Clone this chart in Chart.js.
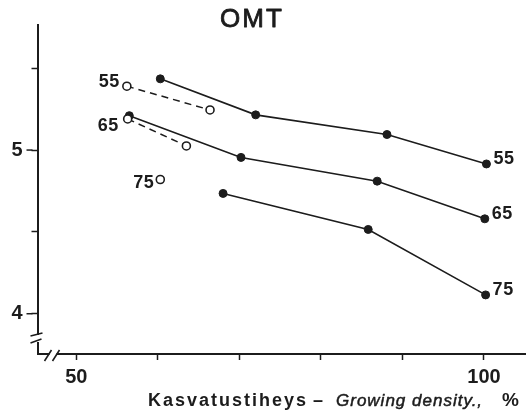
<!DOCTYPE html>
<html lang="en">
<head>
<meta charset="UTF-8" />
<title>OMT</title>
<script src="https://cdn.jsdelivr.net/npm/chart.js"></script>
<style>
  html, body { margin: 0; padding: 0; background: #fff; }
</style>
</head>
<body>
<canvas id="chart" width="532" height="420"></canvas>
<script>
// axis ticks
const xTickValues = [50, 60, 70, 80, 90, 100];
const yTickValues = [4, 4.5, 5, 5.5];

// series 55
const x55 = [60.3, 72, 88.1, 100.3];
const y55 = [5.435, 5.215, 5.095, 4.915];
const x55open = [56.2, 66.4];
const y55open = [5.39, 5.245];

// series 65
const x65 = [56.5, 70.2, 86.9, 100.1];
const y65 = [5.21, 4.955, 4.81, 4.58];
const x65open = [56.3, 63.5];
const y65open = [5.19, 5.025];

// series 75
const x75 = [68, 85.8, 100.2];
const y75 = [4.735, 4.515, 4.115];
const x75open = [60.3];
const y75open = [4.82];

const INK = '#1c1c1c';
const FONT = "'Liberation Sans', Arial, sans-serif";

const pts = (xs, ys) => xs.map((x, i) => ({ x: x, y: ys[i] }));

function solid(name, xs, ys) {
    return {
        label: name,
        data: pts(xs, ys),
        showLine: true,
        borderColor: INK,
        borderWidth: 1.6,
        pointRadius: 4,
        pointBackgroundColor: INK,
        pointBorderColor: INK,
        pointBorderWidth: 1
    };
}

function open(name, xs, ys) {
    return {
        label: name,
        data: pts(xs, ys),
        showLine: true,
        borderColor: INK,
        borderWidth: 1.5,
        borderDash: [7, 5],
        pointRadius: 4,
        pointBackgroundColor: '#fff',
        pointBorderColor: INK,
        pointBorderWidth: 1.6
    };
}

const datasets = [
    open('55', x55open, y55open),
    open('65', x65open, y65open),
    open('75', x75open, y75open),
    solid('55', x55, y55),
    solid('65', x65, y65),
    solid('75', x75, y75)
];

// fill plus a thin outline, for text a little heavier than the plain face
function heavyText(ctx, t, x, y, w) {
    ctx.fillText(t, x, y);
    ctx.lineWidth = w;
    ctx.strokeText(t, x, y);
}

// title, series labels, axis title and the axis breaks
const decorations = {
    id: 'decorations',
    afterDraw(chart) {
        const ctx = chart.ctx;
        const ca = chart.chartArea;
        const xs = chart.scales.x, ys = chart.scales.y;
        ctx.save();
        ctx.fillStyle = INK;
        ctx.strokeStyle = INK;
        ctx.lineJoin = 'round';

        // title
        ctx.letterSpacing = '2px';
        ctx.font = '26px ' + FONT;
        ctx.textAlign = 'center';
        ctx.textBaseline = 'alphabetic';
        heavyText(ctx, 'OMT', 252, 27, 0.8);

        // longer marks at the labelled y ticks
        ctx.lineWidth = 1.5;
        [4, 5].forEach(v => {
            const py = ys.getPixelForValue(v);
            ctx.beginPath();
            ctx.moveTo(ca.left - 11, py);
            ctx.lineTo(ca.left - 5, py);
            ctx.stroke();
        });

        // series labels
        ctx.font = 'bold 18px ' + FONT;
        ctx.letterSpacing = '0.5px';
        ctx.textBaseline = 'middle';
        ctx.textAlign = 'left';
        [[x55, y55, '55'], [x65, y65, '65'], [x75, y75, '75']].forEach(([xv, yv, t]) => {
            const n = xv.length - 1;
            ctx.fillText(t, xs.getPixelForValue(xv[n]) + 7, ys.getPixelForValue(yv[n]) - 5);
        });
        ctx.textAlign = 'right';
        [[x55open, y55open, '55', -7, -4], [x65open, y65open, '65', -9, 7], [x75open, y75open, '75', -6, 4]]
            .forEach(([xv, yv, t, dx, dy]) => {
                ctx.fillText(t, xs.getPixelForValue(xv[0]) + dx, ys.getPixelForValue(yv[0]) + dy);
            });

        // axis title
        ctx.textAlign = 'left';
        ctx.textBaseline = 'alphabetic';
        ctx.font = 'bold 18px ' + FONT;
        ctx.letterSpacing = '2px';
        ctx.fillText('Kasvatustiheys', 148, 406);
        ctx.letterSpacing = '0px';
        ctx.fillText('\u2013', 313, 406);
        ctx.font = 'italic 17px ' + FONT;
        ctx.letterSpacing = '1px';
        heavyText(ctx, 'Growing density.,', 336, 406, 0.5);
        ctx.font = 'bold 19px ' + FONT;
        ctx.letterSpacing = '0px';
        ctx.fillText('%', 502, 406);

        // break on the y axis
        const l = ca.left, b = ca.bottom;
        ctx.fillStyle = '#fff';
        ctx.fillRect(l - 3, b - 19, 6, 7);
        ctx.lineWidth = 1.6;
        ctx.beginPath();
        ctx.moveTo(l - 7, b - 18); ctx.lineTo(l + 5, b - 21);
        ctx.moveTo(l - 7, b - 11); ctx.lineTo(l + 4, b - 15);
        ctx.stroke();

        // break on the x axis
        ctx.fillRect(l + 12, b - 3, 7, 6);
        ctx.beginPath();
        ctx.moveTo(l + 7, b + 7); ctx.lineTo(l + 14, b - 4);
        ctx.moveTo(l + 15, b + 7); ctx.lineTo(l + 22, b - 4);
        ctx.stroke();
        ctx.restore();
    }
};

new Chart(document.getElementById('chart'), {
    type: 'scatter',
    data: { datasets: datasets },
    options: {
        responsive: false,
        animation: false,
        layout: { padding: { top: 25, right: 7, left: 0, bottom: 0 } },
        plugins: {
            legend: { display: false },
            tooltip: { enabled: false }
        },
        scales: {
            x: {
                type: 'linear',
                min: 45.24,
                max: 105.03,
                afterBuildTicks: s => { s.ticks = xTickValues.map(v => ({ value: v })); },
                afterFit: s => { s.height = 66; },
                border: { display: true, color: INK, width: 2 },
                grid: { drawOnChartArea: false, drawTicks: true, tickLength: 6, tickColor: INK, tickWidth: 1.5 },
                ticks: {
                    color: INK,
                    padding: 5,
                    maxRotation: 0,
                    autoSkip: false,
                    font: { family: FONT, size: 20, weight: 'bold' },
                    callback: v => (v === 50 || v === 100) ? String(v) : ''
                }
            },
            y: {
                type: 'linear',
                min: 3.754,
                max: 5.764,
                afterBuildTicks: s => { s.ticks = yTickValues.map(v => ({ value: v })); },
                afterFit: s => { s.width = 37.5; },
                border: { display: true, color: INK, width: 2 },
                grid: { drawOnChartArea: false, drawTicks: true, tickLength: 6, tickColor: INK, tickWidth: 1.5 },
                ticks: {
                    color: INK,
                    padding: 9,
                    autoSkip: false,
                    font: { family: FONT, size: 20, weight: 'bold' },
                    callback: v => Number.isInteger(v) ? String(v) : ''
                }
            }
        }
    },
    plugins: [decorations]
});
</script>
</body>
</html>
